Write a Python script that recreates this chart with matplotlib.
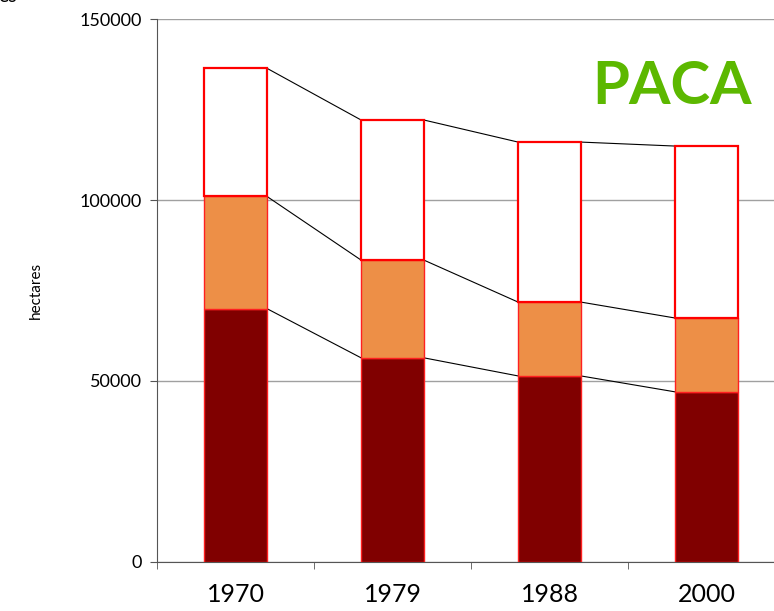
import matplotlib.pyplot as plt
import numpy as np

plt.rcParams['font.family'] = ['Lato', 'DejaVu Sans']

# values (hectares)
years = ['1970', '1979', '1988', '2000']
dark = [70000, 56400, 51400, 47000]
orange = [31000, 27000, 20400, 20400]
white = [35400, 38700, 44200, 47500]

x = np.arange(len(years))
width = 0.4

fig = plt.figure(figsize=(7.74, 6.11), dpi=100)
ax = fig.add_axes([0.2028, 0.0802, 0.8114, 0.8887])

bot2 = np.array(dark) + np.array(orange)
top = bot2 + np.array(white)
ax.bar(x, dark, width, color='#800000', edgecolor='#ff2020', linewidth=1, zorder=3)
ax.bar(x, orange, width, bottom=dark, color='#ed8f47', edgecolor='#ff2020', linewidth=1, zorder=3)
ax.bar(x, white, width, bottom=bot2, color='white', edgecolor='#ff0000', linewidth=1.6, zorder=3)

# connector lines between stacked levels
for level in [np.array(dark), bot2, top]:
    for i in range(len(x) - 1):
        ax.plot([x[i] + width / 2, x[i + 1] - width / 2], [level[i], level[i + 1]],
                color='black', linewidth=0.8, zorder=2)

ax.set_xlim(-0.5, len(years) - 0.5)
ax.set_ylim(0, 150000)
ax.set_yticks([0, 50000, 100000, 150000])
ax.set_yticklabels(['0', '50000', '100000', '150000'], fontsize=13)
ax.set_xticks(x)
ax.set_xticklabels(years, fontsize=18)
ax.set_xticks(np.arange(-0.5, len(years)), minor=True)
ax.tick_params(axis='x', which='major', length=0, pad=15)
ax.tick_params(axis='x', which='minor', length=5, direction='out', color='#555555')
ax.tick_params(axis='y', length=5, direction='out', color='#555555', pad=6)
ax.grid(axis='y', color='#a0a0a0', linewidth=1, zorder=1)
for s in ['top', 'right']:
    ax.spines[s].set_visible(False)
ax.spines['left'].set_color('#555555')
ax.spines['bottom'].set_color('#555555')
ax.set_ylabel('hectares', fontsize=11, labelpad=26)

ax.text(0.947, 0.875, 'PACA', transform=ax.transAxes, fontsize=43, fontweight='bold',
        color='#5cb800', ha='right', va='center')

# title remnant cut off at the top edge
fig.text(-0.002, 0.9975, 'es', fontsize=14, va='baseline', ha='left')

fig.savefig('out.png', dpi=100)
